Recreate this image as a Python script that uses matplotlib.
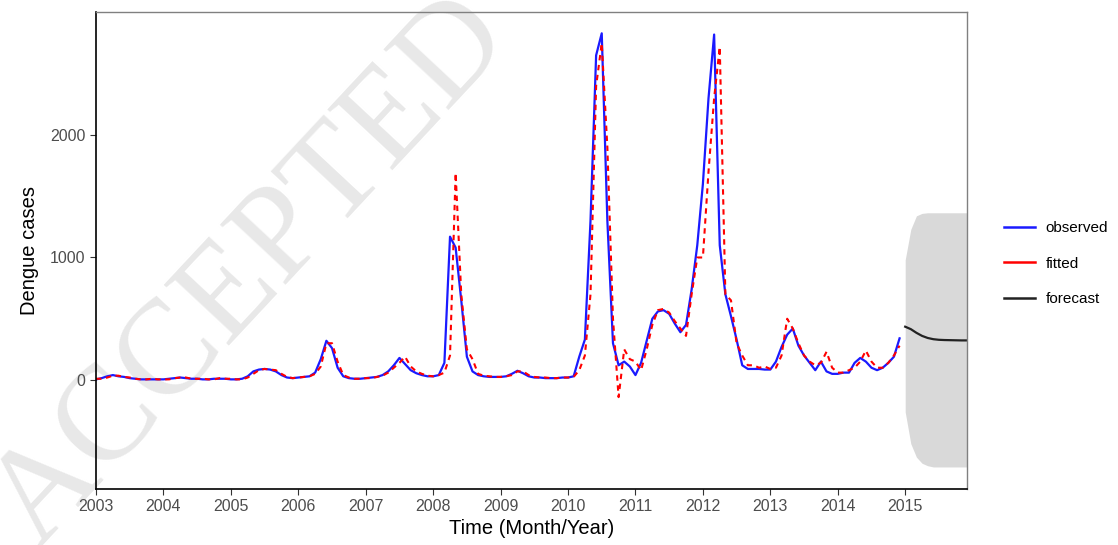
import numpy as np
import matplotlib.pyplot as plt

plt.rcParams['font.family'] = ['Liberation Sans', 'DejaVu Sans']

# monthly dengue cases, Jan 2003 - Dec 2014
observed = [
    5, 15, 30, 40, 30, 25, 15, 10, 5, 5, 5, 5,                  # 2003
    5, 10, 15, 20, 15, 10, 10, 5, 5, 10, 10, 10,                # 2004
    5, 5, 10, 30, 70, 85, 90, 85, 70, 40, 20, 15,               # 2005
    20, 25, 30, 60, 170, 320, 260, 100, 30, 15, 10, 10,         # 2006
    15, 20, 25, 40, 70, 120, 180, 130, 80, 55, 40, 30,          # 2007
    30, 40, 140, 1170, 1080, 650, 190, 70, 40, 30, 25, 25,      # 2008
    25, 30, 50, 75, 55, 30, 20, 20, 15, 15, 15, 20,             # 2009
    20, 30, 190, 330, 1300, 2650, 2830, 1300, 300, 120, 150, 110,  # 2010
    40, 140, 320, 500, 560, 570, 540, 460, 390, 450, 740, 1100,    # 2011
    1600, 2300, 2820, 1100, 700, 520, 330, 120, 90, 90, 90, 85,    # 2012
    85, 150, 270, 370, 420, 280, 200, 140, 80, 150, 70, 50,     # 2013
    50, 60, 60, 140, 180, 150, 100, 80, 100, 140, 190, 340,     # 2014
]

fitted = [
    10, 10, 20, 35, 35, 25, 20, 10, 5, 5, 10, 5,
    5, 5, 15, 20, 20, 10, 10, 10, 5, 5, 15, 10,
    10, 5, 5, 20, 50, 80, 90, 85, 80, 50, 25, 15,
    20, 25, 30, 50, 110, 300, 300, 150, 40, 20, 10, 10,
    15, 15, 25, 35, 60, 100, 140, 190, 110, 70, 50, 35,
    30, 40, 60, 200, 1690, 700, 250, 170, 50, 35, 30, 25,
    25, 30, 40, 70, 70, 40, 25, 20, 20, 15, 15, 20,
    20, 25, 80, 200, 700, 2400, 2750, 1900, 500, -140, 250, 170,
    150, 80, 250, 450, 570, 580, 550, 480, 420, 360, 700, 1000,
    1000, 1700, 2300, 2720, 700, 650, 300, 200, 120, 120, 100, 110,
    90, 100, 200, 500, 420, 300, 200, 150, 120, 140, 230, 100,
    60, 60, 80, 100, 150, 240, 150, 100, 100, 140, 200, 280,
]

# 12-month forecast for 2015 with prediction interval
forecast = [435, 415, 385, 360, 343, 333, 328, 326, 325, 324, 323, 323]
fc_lower = [-260, -520, -630, -680, -700, -710, -710, -710, -710, -710, -710, -710]
fc_upper = [980, 1230, 1340, 1360, 1365, 1365, 1365, 1365, 1365, 1365, 1365, 1365]

t_obs = 2003 + np.arange(len(observed)) / 12
t_fc = 2015 + np.arange(len(forecast)) / 12

fig = plt.figure(figsize=(11.18, 5.45), dpi=100)
ax = fig.add_axes([96 / 1118, 1 - 489 / 545, (967 - 96) / 1118, (489 - 12) / 545])
ax.set_facecolor('none')

fig.text(0.225, 0.50, 'ACCEPTED', fontsize=97, rotation=47, color='#e8e8e8',
         family='Liberation Serif', ha='center', va='center', zorder=-1)

ax.fill_between(t_fc, fc_lower, fc_upper, color='#d9d9d9', lw=0)
ax.plot(t_obs, observed, color='#1a1aff', lw=1.6, label='observed')
ax.plot(t_obs, fitted, color='red', lw=1.5, dashes=(2.6, 2.2), label='fitted')
ax.plot(t_fc, forecast, color='#222222', lw=1.6, label='forecast')

ax.set_xlim(2003, 2015 + 11 / 12)
ax.set_ylim(-890, 3004)
ax.set_xticks(range(2003, 2016))
ax.set_yticks([0, 1000, 2000])

ax.tick_params(axis='both', length=4, width=0.8, colors='#333333',
               labelcolor='#4d4d4d', labelsize=11.5)
for side in ['left', 'bottom']:
    ax.spines[side].set_color('black')
    ax.spines[side].set_linewidth(1.2)
for side in ['top', 'right']:
    ax.spines[side].set_color('#808080')
    ax.spines[side].set_linewidth(1.0)

ax.set_xlabel('Time (Month/Year)', fontsize=14.5, labelpad=3)
ax.set_ylabel('Dengue cases', fontsize=14.5, labelpad=8)

handles = [plt.Line2D([], [], color='#1a1aff', lw=1.8),
           plt.Line2D([], [], color='red', lw=1.8),
           plt.Line2D([], [], color='#222222', lw=1.8)]
fig.legend(handles, ['observed', 'fitted', 'forecast'], loc='center left',
           bbox_to_anchor=(1004 / 1118, 1 - 263.5 / 545), frameon=False,
           fontsize=11, handlelength=2.0, handletextpad=0.7, labelspacing=1.4,
           borderpad=0, borderaxespad=0)

fig.savefig('out.png', dpi=100)
